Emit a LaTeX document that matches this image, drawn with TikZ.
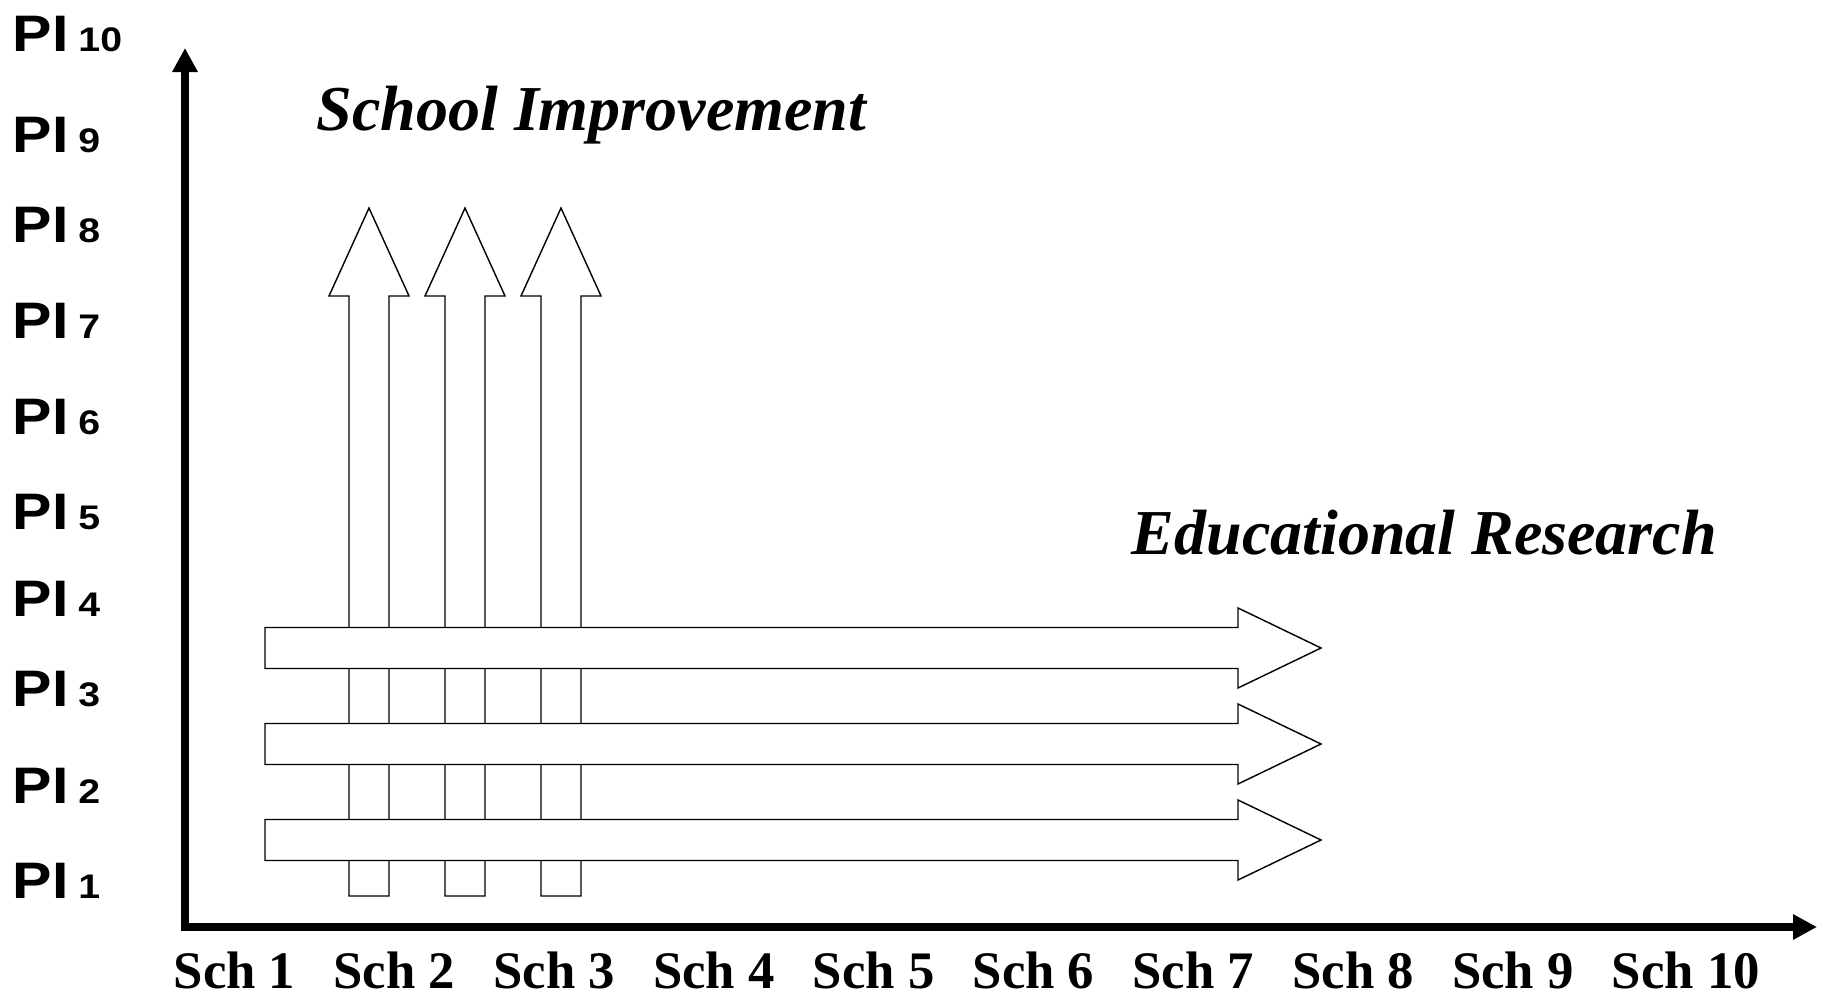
\documentclass[tikz,border=0pt]{standalone}
\usepackage{fontspec}
\setmainfont{Liberation Serif}
\newfontfamily\labelfont[FakeStretch=1.15]{Liberation Sans}
\usetikzlibrary{arrows.meta}

\tikzset{
  blockarrow/.style={draw=black, line width=0.4pt, fill=white, line join=miter},
  axisline/.style={line width=2.3pt, line join=miter,
    {Triangle[length=0.24cm,width=0.24cm]}-{Triangle[length=0.24cm,width=0.24cm]}},
  pilabel/.style={anchor=base west, inner sep=0pt,
    font=\labelfont\bfseries\fontsize{14.6}{17}\selectfont},
  schlabel/.style={anchor=base west, inner sep=0pt,
    font=\bfseries\fontsize{15}{18}\selectfont},
  heading/.style={anchor=base west, inner sep=0pt,
    font=\bfseries\itshape\fontsize{18.2}{22}\selectfont},
}

\begin{document}
\begin{tikzpicture}[x=0.01cm, y=-0.01cm]
    \useasboundingbox (0,0) rectangle (1828,995);
    % upward arrows first, the sideways ones are laid over them
    \foreach \cx in {369,465,561}
      \draw[blockarrow] (\cx-20,896) -- (\cx-20,296) -- (\cx-40,296) -- (\cx,208)
        -- (\cx+40,296) -- (\cx+20,296) -- (\cx+20,896) -- cycle;
    \foreach \cy in {648,744,840}
      \draw[blockarrow] (265,\cy-20.5) -- (1238,\cy-20.5) -- (1238,\cy-40) -- (1321,\cy)
        -- (1238,\cy+40) -- (1238,\cy+20.5) -- (265,\cy+20.5) -- cycle;
    % axes
    \coordinate (origin) at (185,927);
    \coordinate (ytip) at (185,48);
    \coordinate (xtip) at (1817,927);
    \draw[axisline] (ytip) -- (origin) -- (xtip);
    % labels
    \foreach \i/\yb in {1/898,2/803,3/707,4/617,5/530,6/435,7/339,8/243,9/153,10/52}
      \node[pilabel] (pi\i) at (12,\yb) {PI\hspace{0.1cm}{\fontsize{9.7}{11}\selectfont\i}};
    \foreach \i in {1,...,10}
      \node[schlabel] (sch\i) at ({173+159.8*(\i-1)},988) {Sch \i};
    \node[heading] (improve) at (316,131) {School Improvement};
    \node[heading] (research) at (1131,555) {Educational Research};
  \end{tikzpicture}
\end{document}
